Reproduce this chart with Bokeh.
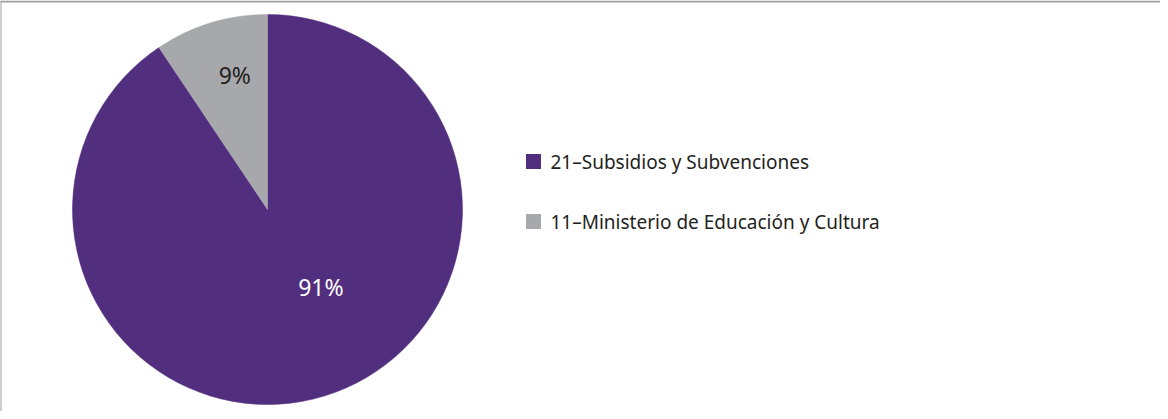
import math
from bokeh.plotting import figure
from bokeh.models import Range1d, Span, ColumnDataSource
from bokeh.core.properties import value
from bokeh.embed import file_html
from bokeh.resources import INLINE

# ---- data ----
categories = ["21–Subsidios y Subvenciones", "11–Ministerio de Educación y Cultura"]
shares = [90.6, 9.4]
colors = ["#522e7e", "#a7a8ab"]
label_text_colors = ["#ffffff", "#231f20"]

W, H = 1160, 411
p = figure(width=W, height=H, output_backend="svg", toolbar_location=None,
           x_range=Range1d(0, W), y_range=Range1d(0, H), min_border=0)
p.axis.visible = False
p.grid.visible = False
p.outline_line_color = None
p.background_fill_color = "white"

# border (top and left visible, rest cropped in reference)
p.add_layout(Span(location=H - 1, dimension="width", line_color="#a0a0a0", line_width=2))
p.add_layout(Span(location=0, dimension="height", line_color="#a0a0a0", line_width=2))

cx, cy, R = 267, 202, 195
total = sum(shares)
# gray slice starts at 12 o'clock going counter-clockwise, purple fills the rest
order = [1, 0]
start = math.pi / 2
starts, ends, mids = {}, {}, {}
for i in order:
    ang = shares[i] / total * 2 * math.pi
    starts[i] = start
    ends[i] = start + ang
    mids[i] = start + ang / 2
    start += ang

src = ColumnDataSource(dict(
    x=[cx] * len(categories), y=[cy] * len(categories),
    start=[starts[i] for i in range(len(categories))],
    end=[ends[i] for i in range(len(categories))],
    color=colors,
))
p.wedge(x="x", y="y", radius=R, radius_units="screen", start_angle="start", end_angle="end",
        direction="anticlock", fill_color="color", line_color="color", line_width=0.5, source=src)

# labels
label_r = [0.50, 0.70]
label_dx = [25, 7]
label_dy = [16, 4]
lx, ly, lt = [], [], []
for i in range(len(categories)):
    lx.append(cx + label_r[i] * R * math.cos(mids[i]) + label_dx[i])
    ly.append(cy + label_r[i] * R * math.sin(mids[i]) + label_dy[i])
    lt.append(f"{round(shares[i])}%")
p.text(x=lx, y=ly, text=lt, text_align="center", text_baseline="middle",
       text_font=value("Noto Sans"), text_font_size="23px", text_color=label_text_colors)

# legend
leg_x, leg_y0, leg_dy = 533, 250, 60
for i, cat in enumerate(categories):
    yy = leg_y0 - i * leg_dy
    p.scatter(x=[leg_x], y=[yy], marker="square", size=15, fill_color=colors[i], line_color=None)
    p.text(x=[leg_x + 17], y=[yy], text=[cat], text_align="left", text_baseline="middle",
           text_font=value("Noto Sans"), text_font_size="19px", text_color="#231f20")

open("out.html", "w").write(file_html(p, INLINE))
